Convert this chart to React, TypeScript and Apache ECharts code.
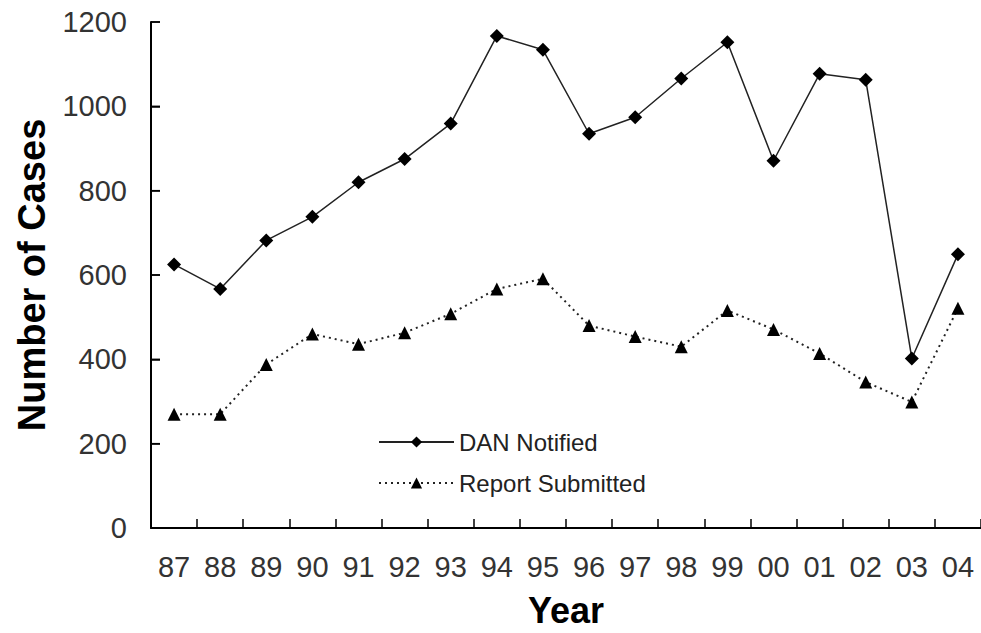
import React, { useEffect, useRef } from "react";
import * as echarts from "echarts";

const years = ["87", "88", "89", "90", "91", "92", "93", "94", "95", "96", "97", "98", "99", "00", "01", "02", "03", "04"];
const danNotified = [625, 567, 682, 738, 820, 875, 959, 1167, 1134, 935, 974, 1066, 1152, 871, 1077, 1063, 402, 649];
const reportSubmitted = [270, 270, 388, 460, 436, 463, 508, 567, 591, 480, 454, 430, 516, 471, 414, 346, 299, 521];
const yTickValues = [0, 200, 400, 600, 800, 1000, 1200];

const FONT = "'Liberation Sans', Arial, sans-serif";

export default function App() {
  const ref = useRef<HTMLDivElement>(null);
  useEffect(() => {
    document.body.style.margin = "0";
    const chart = echarts.init(ref.current!, null, { renderer: "svg" });
    chart.setOption({
      animation: false,
      backgroundColor: "#ffffff",
      textStyle: { fontFamily: FONT },
      grid: { left: 151, top: 22, bottom: 104, right: -9, containLabel: false },
      legend: {
        orient: "vertical",
        left: 378,
        top: 430,
        padding: 0,
        itemWidth: 75,
        itemHeight: 14,
        itemGap: 17,
        textStyle: { fontFamily: FONT, fontSize: 24, color: "#222", lineHeight: 24 },
        data: ["DAN Notified", "Report Submitted"],
      },
      xAxis: {
        type: "category",
        data: years,
        boundaryGap: true,
        name: "Year",
        nameLocation: "middle",
        nameGap: 64,
        nameTextStyle: { fontFamily: FONT, fontSize: 36, fontWeight: "bold", color: "#000" },
        axisLine: { show: true, lineStyle: { color: "#000", width: 2 } },
        axisTick: { show: true, interval: 0, alignWithLabel: false, inside: false, length: -9, lineStyle: { color: "#000", width: 1.5 } },
        axisLabel: { margin: 24, fontFamily: FONT, fontSize: 29, color: "#333" },
        splitLine: { show: false },
      },
      yAxis: {
        type: "value",
        position: "left",
        min: 0,
        max: 1200,
        interval: 200,
        name: "Number of Cases",
        nameLocation: "middle",
        nameRotate: 90,
        nameGap: 100,
        nameTextStyle: { fontFamily: FONT, fontSize: 38, fontWeight: "bold", color: "#000" },
        axisLine: { show: true, lineStyle: { color: "#000", width: 2 } },
        axisTick: { show: true, inside: true, length: 9, lineStyle: { color: "#000", width: 1.5 } },
        axisLabel: { margin: 24, fontFamily: FONT, fontSize: 29, color: "#333", formatter: (v: number) => String(v) },
        splitLine: { show: false },
      },
      series: [
        {
          name: "DAN Notified",
          type: "line",
          data: danNotified,
          symbol: "diamond",
          symbolSize: 14,
          itemStyle: { color: "#000" },
          lineStyle: { color: "#222", width: 1.5, type: "solid" },
        },
        {
          name: "Report Submitted",
          type: "line",
          data: reportSubmitted,
          symbol: "triangle",
          symbolSize: 13,
          itemStyle: { color: "#000" },
          lineStyle: { color: "#222", width: 2, type: [2, 4] },
        },
      ],
    });
    // y-axis ticks drawn from the axis scale (inside, pointing right)
    const c0 = chart.convertToPixel({ xAxisIndex: 0 }, 0) as number;
    const c1 = chart.convertToPixel({ xAxisIndex: 0 }, 1) as number;
    const axisX = c0 - (c1 - c0) / 2;
    chart.setOption({
      graphic: yTickValues.map((v) => {
        const py = chart.convertToPixel({ yAxisIndex: 0 }, v) as number;
        return {
          type: "line",
          z: 10,
          silent: true,
          shape: { x1: axisX, y1: py, x2: axisX + 9, y2: py },
          style: { stroke: "#000", lineWidth: 1.5 },
        };
      }),
    });
    return () => chart.dispose();
  }, []);
  return <div ref={ref} style={{ position: "fixed", left: 0, top: 0, width: 981, height: 633 }} />;
}
